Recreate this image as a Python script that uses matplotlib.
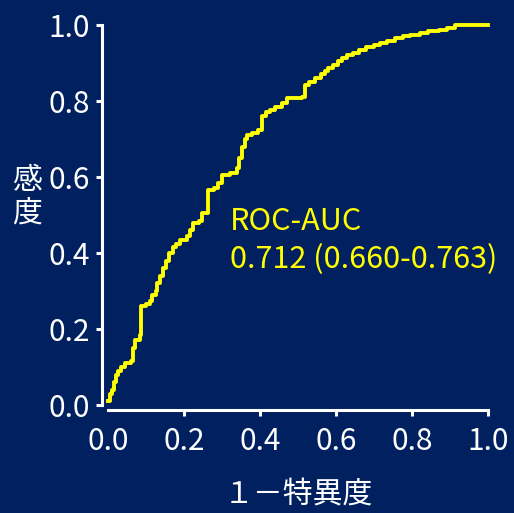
import matplotlib
matplotlib.use("Agg")
import matplotlib.pyplot as plt

plt.rcParams['font.family'] = ['Noto Sans CJK JP', 'DejaVu Sans']

fpr = [0.0, 0.005, 0.01, 0.015, 0.02, 0.025, 0.035, 0.045, 0.06, 0.066, 0.07, 0.084,
       0.088, 0.10, 0.11, 0.115, 0.125, 0.13, 0.137, 0.145, 0.152, 0.16, 0.17, 0.18,
       0.19, 0.207, 0.215, 0.224, 0.24, 0.248, 0.263, 0.28, 0.29, 0.30, 0.32, 0.34,
       0.345, 0.353, 0.36, 0.366, 0.38, 0.395, 0.405, 0.415, 0.426, 0.44, 0.458, 0.47,
       0.51, 0.518, 0.53, 0.545, 0.56, 0.571, 0.58, 0.592, 0.605, 0.615, 0.63, 0.645,
       0.66, 0.68, 0.70, 0.716, 0.735, 0.755, 0.775, 0.795, 0.82, 0.842, 0.87, 0.892,
       0.913, 1.0]
tpr = [0.01, 0.03, 0.04, 0.06, 0.08, 0.09, 0.10, 0.11, 0.115, 0.15, 0.17, 0.185,
       0.26, 0.265, 0.275, 0.29, 0.30, 0.32, 0.34, 0.36, 0.38, 0.40, 0.415, 0.425,
       0.435, 0.445, 0.46, 0.48, 0.485, 0.505, 0.566, 0.57, 0.585, 0.605, 0.61, 0.625,
       0.65, 0.68, 0.70, 0.71, 0.715, 0.724, 0.76, 0.77, 0.776, 0.785, 0.795, 0.808,
       0.81, 0.842, 0.85, 0.86, 0.87, 0.88, 0.888, 0.895, 0.905, 0.913, 0.92, 0.926,
       0.933, 0.942, 0.948, 0.952, 0.958, 0.966, 0.97, 0.974, 0.98, 0.984, 0.988, 0.992,
       1.0, 1.0]

ticks = [0.0, 0.2, 0.4, 0.6, 0.8, 1.0]
tick_labels = ['0.0', '0.2', '0.4', '0.6', '0.8', '1.0']
xlabel = '１－特異度'
ylabel = '感\n度'
annot = 'ROC-AUC\n0.712 (0.660-0.763)'

bg = '#002060'
fg = 'white'
yellow = '#FFFF00'

fig = plt.figure(figsize=(5.14, 5.13), dpi=100, facecolor=bg)
ax = fig.add_axes([108/514, (513-405)/513, 380/514, 380/513], facecolor=bg)

ax.plot(fpr, tpr, drawstyle='steps-post', color=yellow, lw=2.8, clip_on=False)

ax.set_xlim(0, 1)
ax.set_ylim(0, 1)
for s in ['top', 'right']:
    ax.spines[s].set_visible(False)
ax.spines['left'].set_position(('outward', 4.3))
ax.spines['bottom'].set_position(('outward', 3.6))
ax.spines['left'].set_bounds(0, 1)
ax.spines['bottom'].set_bounds(0, 1)
for s in ['left', 'bottom']:
    ax.spines[s].set_color(fg)
    ax.spines[s].set_linewidth(2.2)

ax.set_xticks(ticks)
ax.set_xticklabels(tick_labels)
ax.set_yticks(ticks)
ax.set_yticklabels(tick_labels)
ax.tick_params(colors=fg, labelsize=21.5, width=2.2, length=4.5)
ax.tick_params(axis='x', pad=7)
ax.tick_params(axis='y', pad=4)
ax.xaxis.get_major_ticks()[0].tick1line.set_visible(False)

ax.set_xlabel(xlabel, color=fg, fontsize=21.5, labelpad=16)
fig.text(27/514, 1 - 197/513, ylabel, color=fg, fontsize=21.5, ha='center', va='center',
         linespacing=1.1)

ax.text(0.322, 0.525, annot, color=yellow, fontsize=22, ha='left', va='top',
        transform=ax.transAxes, linespacing=1.31)

fig.savefig('out.png', dpi=100, facecolor=bg)
